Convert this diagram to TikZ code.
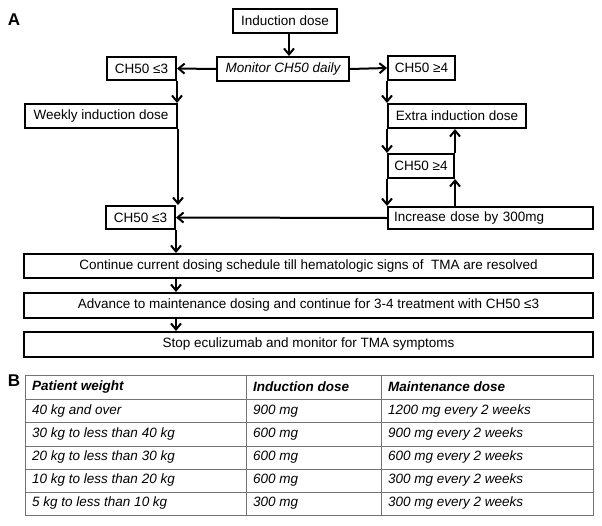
\documentclass[tikz,border=0pt]{standalone}
\usepackage{fontspec}
\setmainfont{Liberation Sans}
\usetikzlibrary{arrows.meta}
\begin{document}
\begin{tikzpicture}[x=1pt,y=-1pt,
  box/.style={draw=black,line width=2pt,inner sep=0pt,font=\fontsize{13.5}{15}\selectfont},
  arr/.style={line width=2pt,-{Straight Barb[length=6pt,width=10pt,line width=2pt]}},
  tline/.style={draw=black!55,line width=0.9pt},
  tcell/.style={anchor=west,inner sep=0pt,font=\fontsize{13.5}{15}\selectfont\itshape},
  thead/.style={tcell,font=\fontsize{13.5}{15}\selectfont\bfseries\itshape},
  lab/.style={font=\fontsize{17}{19}\selectfont\bfseries,inner sep=0pt}]
\useasboundingbox (0,0) rectangle (602,525);
\node[lab] (labA) at (14,20) {A};
\node[lab] (labB) at (14,381) {B};
% flowchart boxes
\node[box,minimum width=104,minimum height=24] (ind) at (285,21) {Induction dose};
\node[box,minimum width=132,minimum height=24,font=\fontsize{13.5}{15}\selectfont\itshape] (mon) at (283,69) {Monitor CH50 daily};
\node[box,minimum width=69,minimum height=23] (le1) at (141.5,68.5) {CH50 ≤3};
\node[box,minimum width=67,minimum height=24] (ge1) at (421.5,68) {CH50 ≥4};
\node[box,minimum width=152,minimum height=24] (wk) at (101,116) {Weekly induction dose};
\node[box,minimum width=138,minimum height=24] (ex) at (457,116) {Extra induction dose};
\node[box,minimum width=66,minimum height=24] (ge2) at (421,166) {CH50 ≥4};
\node[box,minimum width=69,minimum height=23] (le2) at (140.5,217.5) {CH50 ≤3};
\node[box,minimum width=205,minimum height=22,text width=193,align=left] (inc) at (490.5,218) {Increase dose by 300mg};
\node[box,minimum width=569,minimum height=24] (cont) at (308.5,266) {Continue current dosing schedule till hematologic signs of \ TMA are resolved};
\node[box,minimum width=569,minimum height=25] (adv) at (308.5,305.5) {Advance to maintenance dosing and continue for 3-4 treatment with CH50 ≤3};
\node[box,minimum width=569,minimum height=25] (stp) at (308.5,344.5) {Stop eculizumab and monitor for TMA symptoms};
% connectors
\draw[arr] ([xshift=4pt]ind.south) -- ([xshift=4pt]ind.south |- mon.north);
\draw[arr] (mon.west) -- (le1.east);
\draw[arr] (mon.east) -- (ge1.west);
\draw[arr] (le1.south east) -- (le1.south east |- wk.north);
\draw[arr] (wk.south east) -- (wk.south east |- le2.north);
\draw[arr] (le2.south east) -- (le2.south east |- cont.north);
\draw[arr] (inc.west) -- (le2.east);
\draw[arr] (ge1.south west) -- (ge1.south west |- ex.north);
\draw[arr] (ex.south west) -- (ge2.north west);
\draw[arr] (ge2.south west) -- (ge2.south west |- inc.north);
\draw[arr] (ge2.south east |- inc.north) -- (ge2.south east);
\draw[arr] (ge2.north east) -- (ge2.north east |- ex.south);
\draw[arr] (cont.south -| le2.south east) -- (le2.south east |- adv.north);
\draw[arr] (adv.south -| le2.south east) -- (le2.south east |- stp.north);
% table
\draw[tline] (25,375) rectangle (593,515);
\foreach \yy in {399,422,446,469,492} \draw[tline] (25,\yy) -- (593,\yy);
\draw[tline] (246,375) -- (246,515);
\draw[tline] (381,375) -- (381,515);
\node[thead] (h1) at (32,387) {Patient weight};
\node[thead] (h2) at (253,387) {Induction dose};
\node[thead] (h3) at (388,387) {Maintenance dose};
\node[tcell] (r1a) at (32,411) {40 kg and over};
\node[tcell] (r1b) at (253,411) {900 mg};
\node[tcell] (r1c) at (388,411) {1200 mg every 2 weeks};
\node[tcell] (r2a) at (32,434) {30 kg to less than 40 kg};
\node[tcell] (r2b) at (253,434) {600 mg};
\node[tcell] (r2c) at (388,434) {900 mg every 2 weeks};
\node[tcell] (r3a) at (32,457.5) {20 kg to less than 30 kg};
\node[tcell] (r3b) at (253,457.5) {600 mg};
\node[tcell] (r3c) at (388,457.5) {600 mg every 2 weeks};
\node[tcell] (r4a) at (32,480.5) {10 kg to less than 20 kg};
\node[tcell] (r4b) at (253,480.5) {600 mg};
\node[tcell] (r4c) at (388,480.5) {300 mg every 2 weeks};
\node[tcell] (r5a) at (32,503.5) {5 kg to less than 10 kg};
\node[tcell] (r5b) at (253,503.5) {300 mg};
\node[tcell] (r5c) at (388,503.5) {300 mg every 2 weeks};
\end{tikzpicture}
\end{document}
